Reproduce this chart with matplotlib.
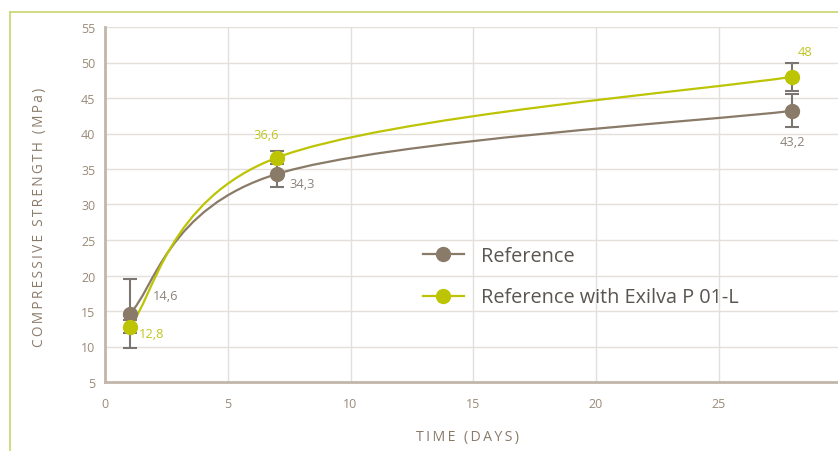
import matplotlib
matplotlib.use('Agg')
import matplotlib.pyplot as plt
import numpy as np
from matplotlib.path import Path
from matplotlib.patches import PathPatch
from matplotlib.lines import Line2D

plt.rcParams['font.family'] = ['Open Sans', 'DejaVu Sans']

# data
days = [1, 7, 28]
reference = [14.6, 34.3, 43.2]
reference_err = [4.85, 1.8, 2.35]
exilva = [12.8, 36.6, 48.0]
exilva_err = [0.9, 0.9, 2.0]
ref_labels = ['14,6', '34,3', '43,2']
exi_labels = ['12,8', '36,6', '48']
series_names = ['Reference', 'Reference with Exilva P 01-L']

REF_COLOR = '#8a7a68'
EXI_COLOR = '#bcc403'
REF_TEXT = '#8c837a'
EXI_TEXT = '#bfc520'
AXIS_COLOR = '#c2b6aa'
TICK_COLOR = '#9a8a78'
GRID_COLOR = '#e3dfdb'


def smooth_path(xs, ys):
    # excel-like smoothed line: cubic bezier with catmull-rom tangents
    pts = np.column_stack([xs, ys]).astype(float)
    n = len(pts)
    verts = [pts[0]]
    codes = [Path.MOVETO]
    for i in range(n - 1):
        prev = pts[max(i - 1, 0)]
        nxt = pts[min(i + 2, n - 1)]
        c1 = pts[i] + (pts[i + 1] - prev) / 6
        c2 = pts[i + 1] - (nxt - pts[i]) / 6
        verts += [c1, c2, pts[i + 1]]
        codes += [Path.CURVE4] * 3
    return Path(verts, codes)


fig = plt.figure(figsize=(8.38, 4.52), dpi=100)
ax = fig.add_axes([105 / 838, 1 - 383 / 452, 736.5 / 838, 355 / 452])

ax.set_xlim(0, 30)
ax.set_ylim(5, 55)
ax.set_xticks([0, 5, 10, 15, 20, 25])
ax.set_yticks(range(5, 56, 5))
ax.grid(True, color=GRID_COLOR, linewidth=1)
ax.axvline(30, color=GRID_COLOR, linewidth=1)
ax.set_axisbelow(True)

for s in ['top', 'right']:
    ax.spines[s].set_visible(False)
for s in ['left', 'bottom']:
    ax.spines[s].set_color(AXIS_COLOR)
    ax.spines[s].set_linewidth(2)
ax.tick_params(length=0, labelsize=9, labelcolor=TICK_COLOR)
ax.tick_params(axis='y', pad=7)
ax.tick_params(axis='x', pad=11)

# smoothed lines
for vals, col in [(reference, REF_COLOR), (exilva, EXI_COLOR)]:
    ax.add_patch(PathPatch(smooth_path(days, vals), fill=False,
                           edgecolor=col, linewidth=1.6, zorder=2))

# error bars
for vals, err in [(reference, reference_err), (exilva, exilva_err)]:
    ax.errorbar(days, vals, yerr=err, fmt='none', ecolor='#7b7672',
                elinewidth=1.5, capsize=5, capthick=1.5, zorder=3)

# markers
ax.plot(days, reference, 'o', color=REF_COLOR, markersize=10, zorder=4)
ax.plot(days, exilva, 'o', color=EXI_COLOR, markersize=10, zorder=5)

# data labels
ref_offsets = [(17, 13), (9, -7), (0, -22)]
exi_offsets = [(7, -5), (-8, 17), (9, 18)]
ref_ha = ['left', 'left', 'center']
exi_ha = ['left', 'center', 'center']
for x, y, t, off, ha in zip(days, reference, ref_labels, ref_offsets, ref_ha):
    ax.annotate(t, (x, y), xytext=off, textcoords='offset points',
                ha=ha, va='center', fontsize=9.3, color=REF_TEXT)
for x, y, t, off, ha in zip(days, exilva, exi_labels, exi_offsets, exi_ha):
    ax.annotate(t, (x, y), xytext=off, textcoords='offset points',
                ha=ha, va='center', fontsize=9.3, color=EXI_TEXT)

handles = [
    Line2D([], [], color=REF_COLOR, linewidth=1.6, marker='o', markersize=10),
    Line2D([], [], color=EXI_COLOR, linewidth=1.6, marker='o', markersize=10),
]
ax.legend(handles, series_names, loc='center left',
          bbox_to_anchor=(0.407, 0.297), frameon=False, fontsize=14.3,
          handlelength=2.1, handletextpad=0.85, labelspacing=1.1,
          labelcolor='#5a5550')

sp = '\u2009'
fig.text(40 / 838, 1 - 217 / 452, sp.join('COMPRESSIVE STRENGTH (MPa)'),
         rotation=90, ha='center', va='center', fontsize=9.8, color='#8a7a6a')
fig.text(467 / 838, 1 - 438 / 452, sp.join('TIME (DAYS)'),
         ha='center', va='center', fontsize=10.2, color='#8a7a6a')

# outer frame
fc = '#c9d46e'
fig.add_artist(Line2D([10 / 838, 10 / 838], [0, 1 - 13 / 452],
                      transform=fig.transFigure, color=fc, linewidth=1.2))
fig.add_artist(Line2D([10 / 838, 1], [1 - 13 / 452, 1 - 13 / 452],
                      transform=fig.transFigure, color=fc, linewidth=1.2))

fig.savefig('out.png', dpi=100)
